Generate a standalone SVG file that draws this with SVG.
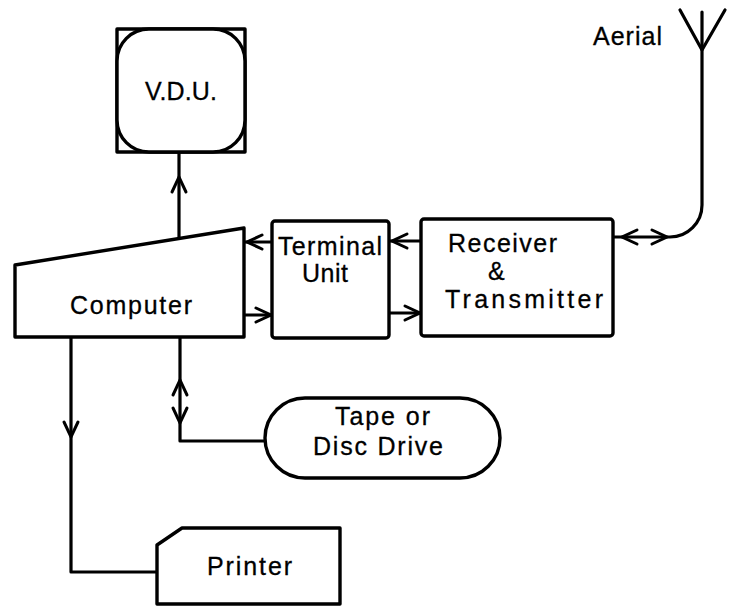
<svg xmlns="http://www.w3.org/2000/svg" width="731" height="607" viewBox="0 0 731 607">
<style>
.s{fill:none;stroke:#000;stroke-width:3.2;stroke-linejoin:round;stroke-linecap:round}
.n{fill:#fff;stroke:#000;stroke-width:3.4;stroke-linejoin:round}
.t{font-family:"Liberation Sans",Arial,sans-serif;font-size:25px;fill:#000;stroke:#000;stroke-width:0.3}
</style>
<defs>
<path id="ah" d="M-7,-15 L0,0 L7,-15" fill="none" stroke="#000" stroke-width="3" stroke-linecap="round" stroke-linejoin="miter"/>
</defs>
<rect width="731" height="607" fill="#fff"/>
<g id="connectors">
<path class="s" d="M179,152 V239"/>
<path class="s" d="M244,242 H272"/>
<path class="s" d="M244,315 H272"/>
<path class="s" d="M389,241 H421"/>
<path class="s" d="M389,313 H421"/>
<path class="s" d="M613,237 H670 A32,32 0 0 0 702,205 V12"/>
<path class="s" d="M180,337 V441 H265"/>
<path class="s" d="M71,337 V572 H157"/>
<use href="#ah" transform="translate(179,177) rotate(180)"/>
<use href="#ah" transform="translate(247,242) rotate(90)"/>
<use href="#ah" transform="translate(271,315) rotate(-90)"/>
<use href="#ah" transform="translate(392,241) rotate(90)"/>
<use href="#ah" transform="translate(420,313) rotate(-90)"/>
<use href="#ah" transform="translate(622,237) rotate(90)"/>
<use href="#ah" transform="translate(667,237) rotate(-90)"/>
<use href="#ah" transform="translate(180,380) rotate(180)"/>
<use href="#ah" transform="translate(180,423)"/>
<use href="#ah" transform="translate(71,437)"/>
</g>
<g id="vdu">
<rect class="n" x="117" y="29" width="128" height="123"/>
<rect class="n" x="117" y="29" width="128" height="123" rx="32" ry="32"/>
<text class="t" x="145" y="100" textLength="72" lengthAdjust="spacing">V.D.U.</text>
</g>
<g id="computer">
<path class="n" d="M15,265 L244,228 V337 H15 Z"/>
<text class="t" x="70" y="314" textLength="122" lengthAdjust="spacing">Computer</text>
</g>
<g id="terminal">
<rect class="n" x="272" y="221" width="117" height="117" rx="3"/>
<text class="t" x="278" y="255" textLength="104" lengthAdjust="spacing">Terminal</text>
<text class="t" x="302" y="282" textLength="46" lengthAdjust="spacing">Unit</text>
</g>
<g id="receiver">
<rect class="n" x="421" y="219" width="192" height="117" rx="3"/>
<text class="t" x="448" y="252" textLength="109" lengthAdjust="spacing">Receiver</text>
<text class="t" x="488" y="280">&amp;</text>
<text class="t" x="445" y="308" textLength="158" lengthAdjust="spacing">Transmitter</text>
</g>
<g id="aerial">
<path class="s" d="M680,10 L702,50 L725,10"/>
<text class="t" x="593" y="45" textLength="69" lengthAdjust="spacing">Aerial</text>
</g>
<g id="tape">
<rect class="n" x="265" y="398" width="235" height="80" rx="40" ry="40"/>
<text class="t" x="335" y="425" textLength="95" lengthAdjust="spacing">Tape or</text>
<text class="t" x="313" y="455" textLength="130" lengthAdjust="spacing">Disc Drive</text>
</g>
<g id="printer">
<path class="n" d="M157,545 L182,528 H340 V604 H157 Z"/>
<text class="t" x="207" y="575" textLength="85" lengthAdjust="spacing">Printer</text>
</g>
</svg>
